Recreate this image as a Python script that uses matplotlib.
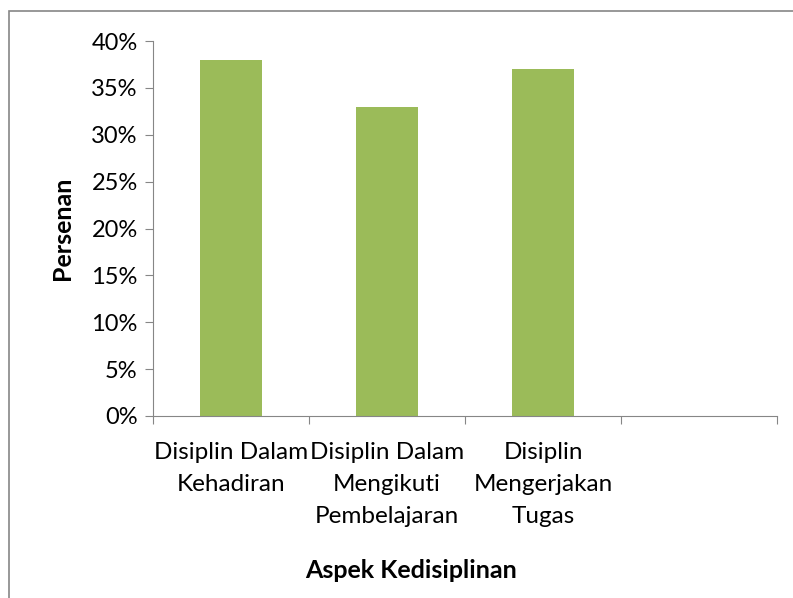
import matplotlib.pyplot as plt
from matplotlib.patches import Rectangle
from matplotlib.ticker import PercentFormatter
import numpy as np

# Data
categories = ["Disiplin Dalam\nKehadiran", "Disiplin Dalam\nMengikuti\nPembelajaran",
              "Disiplin\nMengerjakan\nTugas", ""]
values = [0.38, 0.33, 0.37, np.nan]
y_ticks = [0, 0.05, 0.10, 0.15, 0.20, 0.25, 0.30, 0.35, 0.40]

plt.rcParams['font.family'] = ['Lato', 'DejaVu Sans']

fig = plt.figure(figsize=(7.93, 5.98), dpi=100)
ax = fig.add_axes([153/793, 1-416/598, (777-153)/793, (416-41)/598])

x = np.arange(len(categories))
ax.bar(x, values, width=0.4, color='#9BBB59')

ax.set_xlim(-0.5, len(categories) - 0.5)
ax.set_ylim(0, 0.40)
ax.set_yticks(y_ticks)
ax.yaxis.set_major_formatter(PercentFormatter(1.0, decimals=0))

ax.set_xticks(np.arange(len(categories) + 1) - 0.5)
ax.set_xticklabels([])
ax.set_xticks(x, minor=True)
ax.set_xticklabels(categories, minor=True, fontsize=17.5, linespacing=1.65)
ax.tick_params(axis='x', which='minor', length=0, pad=19)
ax.tick_params(axis='x', which='major', length=6, color='#868686')
ax.tick_params(axis='y', length=6, color='#868686', labelsize=17, pad=5)

for s in ['top', 'right']:
    ax.spines[s].set_visible(False)
for s in ['left', 'bottom']:
    ax.spines[s].set_color('#868686')

fig.text(411/793, 1-570/598, "Aspek Kedisiplinan", ha='center', va='center',
         fontsize=18, fontweight='bold')
fig.text(63/793, 1-228/598, "Persenan", ha='center', va='center',
         rotation=90, fontsize=18, fontweight='bold')

# chart border
fig.patches.append(Rectangle((9/793, -0.05), 1.0, 1 - 11/598 + 0.05,
                             transform=fig.transFigure, fill=False,
                             edgecolor='#868686', linewidth=1.2))

fig.savefig('out.png', dpi=100)
